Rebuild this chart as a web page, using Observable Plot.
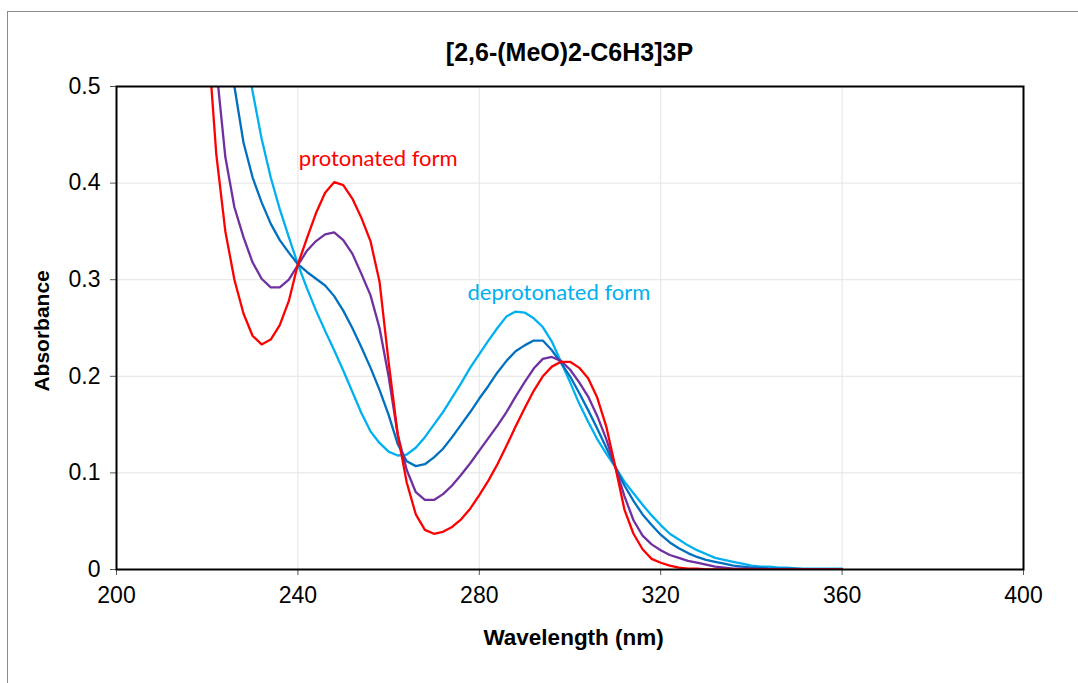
<!DOCTYPE html>
<html><head><meta charset="utf-8">
<script src="https://cdn.jsdelivr.net/npm/d3@7"></script>
<script src="https://cdn.jsdelivr.net/npm/@observablehq/plot@0.6"></script>
<style>
body{margin:0;background:#fff;}
#wrap{position:relative;width:1078px;height:683px;overflow:hidden;font-family:"Liberation Sans",Arial,sans-serif;background:#fff;}
#border{position:absolute;left:7px;top:11px;width:1200px;height:800px;border:1px solid #8c8c8c;}
#chart{position:absolute;left:0;top:0;}
#title{position:absolute;left:116px;width:907px;top:37px;text-align:center;font-weight:bold;font-size:25px;line-height:30px;color:#000;}
</style></head><body>
<div id="wrap"><div id="border"></div><div id="chart"></div><div id="title">[2,6-(MeO)2-C6H3]3P</div></div>
<script>
const wavelength = [220,222,224,226,228,230,232,234,236,238,240,242,244,246,248,250,252,254,256,258,260,262,264,266,268,270,272,274,276,278,280,282,284,286,288,290,292,294,296,298,300,302,304,306,308,310,312,314,316,318,320,322,324,326,328,330,332,334,336,338,340,342,344,346,348,350,352,354,356,358,360];

const protonated = [0.56,0.43,0.35,0.30,0.265,0.242,0.233,0.238,0.253,0.278,0.316,0.343,0.369,0.390,0.401,0.398,0.384,0.364,0.340,0.298,0.215,0.140,0.090,0.057,0.041,0.037,0.039,0.044,0.052,0.063,0.077,0.092,0.109,0.128,0.148,0.167,0.185,0.200,0.210,0.215,0.215,0.209,0.198,0.178,0.148,0.106,0.062,0.037,0.021,0.011,0.007,0.004,0.002,0.001,0.001,0,0,0,0,0,0,0,0,0,0,0,0,0,0,0,0];

const intermediate1 = [0.62,0.52,0.427,0.375,0.344,0.318,0.301,0.292,0.292,0.300,0.315,0.330,0.340,0.347,0.349,0.341,0.327,0.306,0.284,0.250,0.200,0.140,0.103,0.080,0.072,0.072,0.078,0.087,0.098,0.110,0.123,0.136,0.149,0.163,0.179,0.194,0.208,0.218,0.220,0.216,0.207,0.194,0.179,0.159,0.135,0.106,0.076,0.051,0.035,0.026,0.020,0.015,0.012,0.009,0.007,0.005,0.003,0.002,0.001,0.001,0.001,0,0,0,0,0,0,0,0,0,0];

const intermediate2 = [0.75,0.64,0.56,0.50,0.442,0.406,0.380,0.358,0.341,0.328,0.316,0.308,0.301,0.294,0.283,0.268,0.250,0.230,0.209,0.186,0.160,0.130,0.112,0.107,0.109,0.116,0.125,0.137,0.150,0.163,0.177,0.190,0.204,0.216,0.226,0.232,0.237,0.237,0.227,0.214,0.200,0.183,0.165,0.146,0.126,0.106,0.087,0.071,0.057,0.046,0.036,0.028,0.022,0.017,0.013,0.010,0.008,0.006,0.004,0.003,0.002,0.002,0.001,0.001,0.001,0.001,0,0,0,0,0];

const deprotonated = [1.0,0.85,0.72,0.62,0.55,0.495,0.446,0.406,0.373,0.344,0.316,0.291,0.268,0.247,0.227,0.206,0.184,0.162,0.143,0.131,0.122,0.118,0.119,0.126,0.137,0.150,0.163,0.178,0.193,0.209,0.223,0.237,0.250,0.262,0.267,0.266,0.260,0.251,0.236,0.215,0.194,0.172,0.153,0.135,0.120,0.106,0.091,0.079,0.067,0.056,0.046,0.037,0.031,0.025,0.020,0.016,0.012,0.010,0.008,0.006,0.004,0.003,0.003,0.002,0.002,0.001,0.001,0.001,0.001,0.001,0.001];

const xTicks = [200,240,280,320,360,400];
const yTicks = [0,0.1,0.2,0.3,0.4,0.5];
const seriesNames = ["deprotonated","intermediate2","intermediate1","protonated"];
const seriesColors = ["#00B0F0","#0070C0","#7030A0","#FF0000"];
const seriesValues = [deprotonated, intermediate2, intermediate1, protonated];
const annotations = [
  {x:240.2, y:0.425, text:"protonated form", color:"#FF0000"},
  {x:277.4, y:0.286, text:"deprotonated form", color:"#00B0F0"}
];
const axisTitles = [
  {x:183.7, y:0.247, text:"Absorbance", rotate:-90, size:21},
  {x:300.8, y:-0.071, text:"Wavelength (nm)", rotate:0, size:22.5}
];

const rows = (vals) => wavelength.map((w,i)=>({w, a: vals[i]}));

const lineMarks = seriesValues.map((vals,k)=>Plot.line(rows(vals), {
  x:"w", y:"a", stroke: seriesColors[k], strokeWidth:2.3, clip:true, strokeLinejoin:"round"
}));

const chart = Plot.plot({
  width:1078, height:683,
  marginLeft:116, marginRight:55, marginTop:86, marginBottom:114,
  style:{fontFamily:"'Liberation Sans', Arial, sans-serif", fontSize:"23px", color:"#000", background:"transparent", overflow:"visible"},
  x:{domain:[200,400]},
  y:{domain:[0,0.5]},
  marks:[
    Plot.gridX(xTicks, {stroke:"#e4e4e4", strokeOpacity:1, strokeWidth:1}),
    Plot.gridY(yTicks, {stroke:"#e4e4e4", strokeOpacity:1, strokeWidth:1}),
    Plot.axisX(xTicks, {tickSize:6, tickPadding:11, tickFormat:d=>String(d), label:null, stroke:"#555"}),
    Plot.axisY(yTicks, {tickSize:6, tickPadding:10, tickFormat:d=>String(d), label:null, stroke:"#555"}),
    ...lineMarks,
    Plot.frame({stroke:"#000", strokeWidth:2}),
    Plot.text(annotations, {x:"x", y:"y", text:"text", fill:d=>d.color, textAnchor:"start", fontSize:22, fontFamily:"Lato, 'Liberation Sans', sans-serif"}),
    Plot.text(axisTitles.slice(0,1), {x:"x", y:"y", text:"text", rotate:-90, fontWeight:"bold", fontSize:21}),
    Plot.text(axisTitles.slice(1), {x:"x", y:"y", text:"text", fontWeight:"bold", fontSize:22.5})
  ]
});
document.getElementById("chart").appendChild(chart);
</script>
</body></html>
